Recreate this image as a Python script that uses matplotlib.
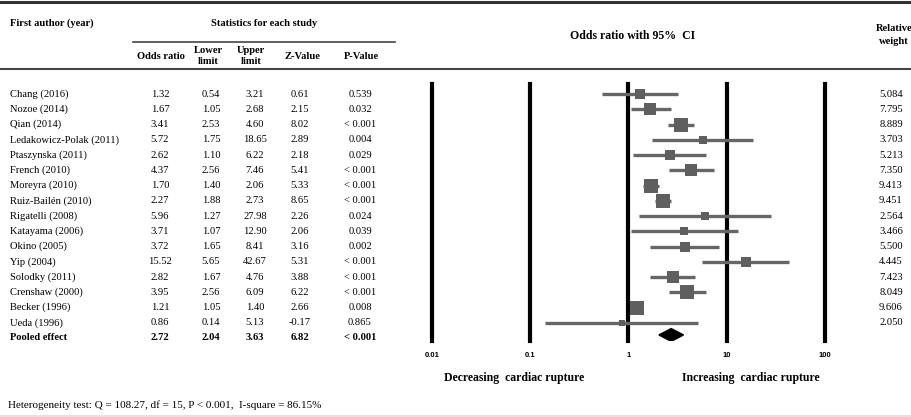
import matplotlib
matplotlib.use('Agg')
import matplotlib.pyplot as plt
from matplotlib.patches import Polygon
import numpy as np

# --- study data --- #
studies = ["Chang (2016)", "Nozoe (2014)", "Qian (2014)", "Ledakowicz-Polak (2011)",
           "Ptaszynska (2011)", "French (2010)", "Moreyra (2010)", "Ruiz-Bailén (2010)",
           "Rigatelli (2008)", "Katayama (2006)", "Okino (2005)", "Yip (2004)",
           "Solodky (2011)", "Crenshaw (2000)", "Becker (1996)", "Ueda (1996)"]
odds = [1.32, 1.67, 3.41, 5.72, 2.62, 4.37, 1.70, 2.27, 5.96, 3.71, 3.72, 15.52, 2.82, 3.95, 1.21, 0.86]
lower = [0.54, 1.05, 2.53, 1.75, 1.10, 2.56, 1.40, 1.88, 1.27, 1.07, 1.65, 5.65, 1.67, 2.56, 1.05, 0.14]
upper = [3.21, 2.68, 4.60, 18.65, 6.22, 7.46, 2.06, 2.73, 27.98, 12.90, 8.41, 42.67, 4.76, 6.09, 1.40, 5.13]
zvals = ["0.61", "2.15", "8.02", "2.89", "2.18", "5.41", "5.33", "8.65", "2.26", "2.06", "3.16", "5.31",
         "3.88", "6.22", "2.66", "-0.17"]
pvals = ["0.539", "0.032", "< 0.001", "0.004", "0.029", "< 0.001", "< 0.001", "< 0.001", "0.024",
         "0.039", "0.002", "< 0.001", "< 0.001", "< 0.001", "0.008", "0.865"]
weights = [5.084, 7.795, 8.889, 3.703, 5.213, 7.350, 9.413, 9.451, 2.564, 3.466, 5.500, 4.445,
           7.423, 8.049, 9.606, 2.050]
pooled = {"or": 2.72, "lo": 2.04, "hi": 3.63, "z": "6.82", "p": "< 0.001"}
ticks = [0.01, 0.1, 1, 10, 100]
tick_labels = ["0.01", "0.1", "1", "10", "100"]

W, H = 912, 417
serif = "Liberation Serif"
fs = 7.6

fig = plt.figure(figsize=(W / 100, H / 100), dpi=100)
fig.patch.set_facecolor('white')

# background axes in pixel coordinates for the table part
bg = fig.add_axes([0, 0, 1, 1])
bg.set_xlim(0, W)
bg.set_ylim(H, 0)
bg.axis('off')

row0, dy = 94, 15.25
def row_y(i):
    return row0 + dy * i

# rules
bg.plot([0, W], [2, 2], color='#333333', lw=2.2)
bg.plot([0, W], [69, 69], color='#444444', lw=1.5)
bg.plot([133, 395], [42, 42], color='#444444', lw=1.2)
bg.plot([0, W], [416, 416], color='#dddddd', lw=1.2)

# headers
bg.text(10, 23, "First author (year)", family=serif, weight='bold', fontsize=fs, va='center')
bg.text(264, 23, "Statistics for each study", family=serif, weight='bold', fontsize=fs, va='center', ha='center')
col_x = [161, 208, 251, 302, 361]
headers = ["Odds ratio", "Lower\nlimit", "Upper\nlimit", "Z-Value", "P-Value"]
for x, h in zip(col_x, headers):
    bg.text(x, 56, h, family=serif, weight='bold', fontsize=fs, va='center', ha='center', linespacing=1.4)
bg.text(633, 36, "Odds ratio with 95%  CI", family=serif, weight='bold', fontsize=8.5, va='center', ha='center')
bg.text(894, 35, "Relative\nweight", family=serif, weight='bold', fontsize=fs, va='center', ha='center', linespacing=1.5)

# table rows
val_x = [160, 211, 255, 300, 360]
for i, name in enumerate(studies):
    y = row_y(i)
    bg.text(10, y, name, family=serif, fontsize=fs, va='center')
    cells = [f"{odds[i]:.2f}", f"{lower[i]:.2f}", f"{upper[i]:.2f}", zvals[i], pvals[i]]
    for x, c in zip(val_x, cells):
        bg.text(x, y, c, family=serif, fontsize=fs, va='center', ha='center')
    bg.text(891, y, f"{weights[i]:.3f}", family=serif, fontsize=fs, va='center', ha='center')

yp = row_y(len(studies))
bg.text(10, yp, "Pooled effect", family=serif, weight='bold', fontsize=fs, va='center')
cells = [f"{pooled['or']:.2f}", f"{pooled['lo']:.2f}", f"{pooled['hi']:.2f}", pooled['z'], pooled['p']]
for x, c in zip(val_x, cells):
    bg.text(x, yp, c, family=serif, weight='bold', fontsize=fs, va='center', ha='center')

bg.text(514, 378, "Decreasing  cardiac rupture", family=serif, weight='bold', fontsize=8.5, va='center', ha='center')
bg.text(751, 378, "Increasing  cardiac rupture", family=serif, weight='bold', fontsize=8.5, va='center', ha='center')
bg.text(8, 405, "Heterogeneity test: Q = 108.27, df = 15, P < 0.001,  I-square = 86.15%",
        family=serif, fontsize=8, va='center')

# forest plot axes
x0, x1 = 432, 825
ytop, ybot = 84, 341
ax = fig.add_axes([x0 / W, 1 - ybot / H, (x1 - x0) / W, (ybot - ytop) / H])
ax.set_xscale('log')
ax.set_xlim(ticks[0], ticks[-1])
ax.set_ylim((ybot - row0) / dy, (ytop - row0) / dy)
ax.patch.set_alpha(0)
for s in ax.spines.values():
    s.set_visible(False)
ax.set_yticks([])
ax.set_xticks(ticks)
ax.set_xticklabels(tick_labels, family='Liberation Sans', weight='bold', fontsize=5.5)
ax.tick_params(axis='x', length=0, pad=8)
ax.minorticks_off()

for t in ticks:
    ax.axvline(t, color='black', lw=3, zorder=1, clip_on=False)

idx = np.arange(len(studies))
for i in idx:
    ax.plot([lower[i], upper[i]], [i, i], color='#666666', lw=2.4, solid_capstyle='butt', zorder=2)
    ax.plot(odds[i], i, marker='s', color='#5f5f5f', markersize=3.3 * np.sqrt(weights[i]),
            markeredgewidth=0, zorder=3)

ip = len(studies) - 0.2
diamond = Polygon([[pooled['lo'], ip], [pooled['or'], ip - 0.42], [pooled['hi'], ip], [pooled['or'], ip + 0.42]],
                  closed=True, color='black', zorder=3)
ax.add_patch(diamond)

plt.savefig('out.png', dpi=100)
